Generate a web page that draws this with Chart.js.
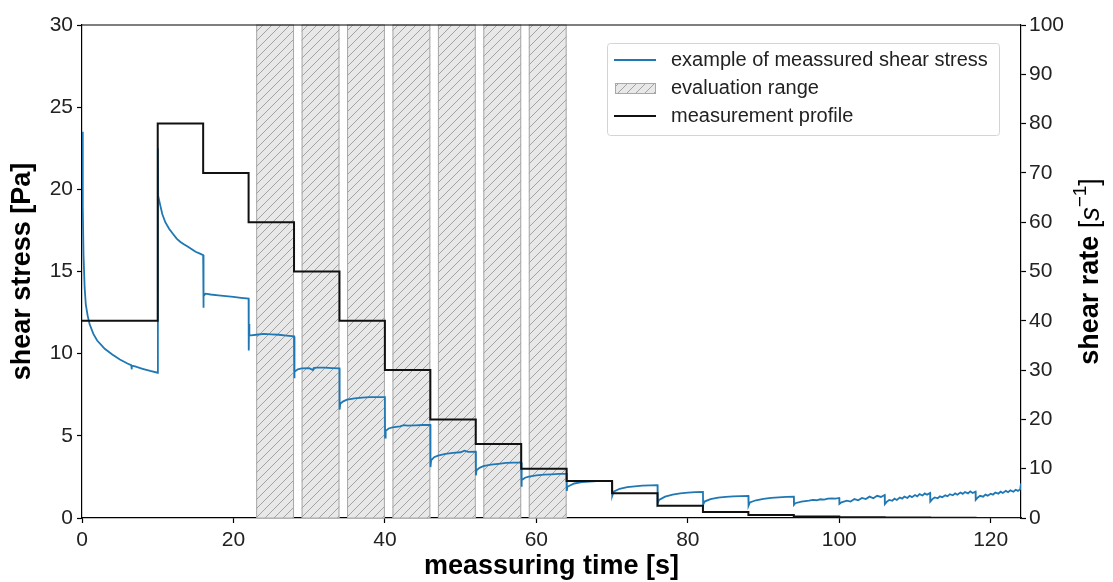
<!DOCTYPE html>
<html>
<head>
    <title>Shear stress and measurement profile</title>
    <script src="https://cdn.jsdelivr.net/npm/chart.js"></script>
    <style>
        body { margin: 0; background: #fff; }
        #wrap { width: 1113px; height: 582px; }
    </style>
</head>
<body>

<div id="wrap"><canvas id="shearChart" width="1113" height="582"></canvas></div>

<script>
// measured shear stress [Pa] vs time [s]
const stressTime = [
    0, 0.1, 0.2, 0.35, 0.5, 0.75, 1, 1.5, 2, 2.5, 3, 4, 5, 6, 6.5, 6.55, 6.6, 7, 8, 9, 10,
    10.02, 10.06, 10.3, 10.6, 11, 11.5, 12, 12.5, 13, 13.5, 14, 14.5, 15, 15.5, 16,
    16.02, 16.08, 16.3, 17, 18, 19, 20, 21, 22,
    22.02, 22.06, 22.1, 23, 24, 25, 26, 27, 28,
    28.02, 28.1, 28.5, 29, 30, 30.5, 30.6, 31, 32, 33, 34,
    34.02, 34.1, 34.5, 35, 36, 37, 38, 39, 40,
    40.02, 40.1, 40.5, 41, 42, 42.5, 43, 44, 45, 46,
    46.02, 46.1, 46.5, 47, 48, 49, 50, 50.5, 51, 52,
    52.02, 52.1, 52.5, 53, 54, 55, 56, 57, 58,
    58.02, 58.1, 58.5, 59, 60, 61, 62, 63, 64,
    64.02, 64.1, 65, 66, 67, 68, 69, 70,
    70.02, 70.2, 71, 72, 73, 74, 75, 76,
    76.02, 76.2, 77, 78, 79, 80, 81, 82,
    82.02, 82.2, 83, 84, 85, 86, 87, 88,
    88.02, 88.2, 89, 90, 91, 92, 93, 94,
    94.02, 94.2, 95, 96, 96.5, 97, 97.5, 98, 98.5, 99, 99.5, 100,
    100.02, 100.3, 101, 101.5, 102, 102.5, 103, 103.5, 104, 104.5, 105, 105.5, 106,
    106.02, 106.3, 106.6, 107, 107.3, 107.6, 108, 108.3, 108.6, 109, 109.3, 109.6, 110, 110.3, 110.6, 111, 111.3, 111.6, 112,
    112.02, 112.3, 112.6, 113, 113.3, 113.6, 114, 114.3, 114.6, 115, 115.3, 115.6, 116, 116.3, 116.6, 117, 117.3, 117.6, 118,
    118.02, 118.3, 118.6, 119, 119.3, 119.6, 120, 120.3, 120.6, 121, 121.3, 121.6, 122, 122.3, 122.6, 123, 123.3, 123.6, 123.9, 124
];
const stressValue = [
    23.5, 19, 16, 14, 13, 12.3, 11.8, 11.2, 10.8, 10.55, 10.3, 9.95, 9.65, 9.4, 9.3, 9.05, 9.28, 9.22, 9.08, 8.95, 8.84,
    22.5, 19.6, 19.1, 18.5, 18.0, 17.6, 17.3, 17.0, 16.8, 16.65, 16.5, 16.35, 16.2, 16.1, 16.0,
    12.8, 13.5, 13.65, 13.6, 13.55, 13.5, 13.45, 13.4, 13.35,
    10.2, 11.8, 11.1, 11.15, 11.2, 11.18, 11.15, 11.1, 11.05,
    8.5, 8.9, 9.05, 9.1, 9.12, 9.0, 9.12, 9.15, 9.15, 9.12, 9.1,
    6.6, 6.95, 7.1, 7.2, 7.28, 7.32, 7.35, 7.36, 7.36,
    4.9, 5.3, 5.45, 5.52, 5.58, 5.65, 5.62, 5.64, 5.66, 5.66,
    3.1, 3.5, 3.7, 3.8, 3.9, 3.96, 4.0, 4.1, 4.02, 4.03,
    2.6, 2.9, 3.05, 3.15, 3.25, 3.3, 3.35, 3.37, 3.37,
    1.9, 2.3, 2.45, 2.52, 2.6, 2.64, 2.66, 2.68, 2.68,
    1.65, 1.9, 2.1, 2.18, 2.22, 2.24, 2.25, 2.25,
    1.35, 1.6, 1.78, 1.88, 1.93, 1.97, 1.99, 2.0,
    0.9, 1.1, 1.3, 1.42, 1.5, 1.54, 1.57, 1.58,
    0.8, 1.0, 1.15, 1.24, 1.29, 1.32, 1.33, 1.34,
    0.75, 0.95, 1.08, 1.16, 1.22, 1.26, 1.28, 1.3,
    0.8, 0.9, 1.0, 1.06, 1.1, 1.08, 1.14, 1.12, 1.18, 1.2, 1.18, 1.22,
    0.85, 0.95, 1.05, 1.0, 1.15, 1.08, 1.22, 1.15, 1.3, 1.2, 1.35, 1.28, 1.4,
    0.85, 1.0, 1.1, 1.05, 1.18, 1.1, 1.25, 1.18, 1.3, 1.22, 1.35, 1.27, 1.4, 1.32, 1.45, 1.37, 1.5, 1.42, 1.52,
    1.0, 1.15, 1.25, 1.2, 1.32, 1.26, 1.38, 1.32, 1.45, 1.38, 1.5, 1.42, 1.55, 1.47, 1.58, 1.5, 1.62, 1.52, 1.6,
    1.1, 1.25, 1.35, 1.3, 1.42, 1.36, 1.48, 1.42, 1.55, 1.48, 1.6, 1.52, 1.65, 1.57, 1.68, 1.6, 1.72, 1.65, 1.75, 2.1
];

// measurement profile: shear rate [1/s], each value held until the next time
const profileTime = [0, 10, 16, 22, 28, 34, 40, 46, 52, 58, 64, 70, 76, 82, 88, 94, 100, 106, 112, 118, 124];
const profileRate = [40, 80, 70, 60, 50, 40, 30, 20, 15, 10, 7.5, 5, 2.5, 1.2, 0.6, 0.3, 0.15, 0.08, 0.04, 0.02, 0.02];

// evaluation ranges [s]
const evalStart = [23, 29, 35, 41, 47, 53, 59];
const evalEnd   = [28, 34, 40, 46, 52, 58, 64];

const FONT = "'Liberation Sans', Arial, sans-serif";

function makeHatch(ctx) {
    const c = document.createElement('canvas');
    c.width = 9; c.height = 9;
    const p = c.getContext('2d');
    p.fillStyle = '#e8e8e8';
    p.fillRect(0, 0, 9, 9);
    p.strokeStyle = '#a2a2a2';
    p.lineWidth = 1;
    p.beginPath();
    p.moveTo(-1, 10); p.lineTo(10, -1);
    p.moveTo(-1, 1); p.lineTo(1, -1);
    p.moveTo(8, 10); p.lineTo(10, 8);
    p.stroke();
    return ctx.createPattern(c, 'repeat');
}

const hatchPlugin = {
    id: 'hatchRanges',
    beforeDatasetsDraw(chart) {
        const {ctx, scales: {x, y}} = chart;
        const pat = makeHatch(ctx);
        ctx.save();
        for (let i = 0; i < evalStart.length; i++) {
            const x0 = x.getPixelForValue(evalStart[i]);
            const x1 = x.getPixelForValue(evalEnd[i]);
            const y0 = y.getPixelForValue(30);
            const y1 = y.getPixelForValue(0);
            ctx.fillStyle = pat;
            ctx.fillRect(x0, y0, x1 - x0, y1 - y0);
            ctx.strokeStyle = '#a8a8a8';
            ctx.lineWidth = 1;
            ctx.strokeRect(x0 + 0.5, y0, x1 - x0 - 1, y1 - y0);
        }
        ctx.restore();
    },
    afterDatasetsDraw(chart) {
        const {ctx, chartArea} = chart;
        // top frame line
        ctx.save();
        ctx.strokeStyle = '#000';
        ctx.lineWidth = 1.2;
        ctx.beginPath();
        ctx.moveTo(chartArea.left, chartArea.top);
        ctx.lineTo(chartArea.right, chartArea.top);
        ctx.stroke();

        // legend inside the plot
        const bx = 607, by = 43, bw = 392, bh = 92;
        ctx.fillStyle = 'rgba(255,255,255,0.85)';
        ctx.strokeStyle = '#d4d4d4';
        ctx.lineWidth = 1;
        ctx.beginPath();
        ctx.roundRect(bx + 0.5, by + 0.5, bw, bh, 3);
        ctx.fill();
        ctx.stroke();

        ctx.font = '20px ' + FONT;
        ctx.textBaseline = 'middle';
        ctx.fillStyle = '#222';
        const rows = [60, 88, 116];
        const tx = 671;
        ctx.lineWidth = 2;
        ctx.strokeStyle = '#1f77b4';
        ctx.beginPath(); ctx.moveTo(614, rows[0]); ctx.lineTo(656, rows[0]); ctx.stroke();
        ctx.fillText('example of meassured shear stress', tx, rows[0]);

        ctx.fillStyle = makeHatch(ctx);
        ctx.fillRect(615, rows[1] - 5, 41, 11);
        ctx.strokeStyle = '#a8a8a8';
        ctx.lineWidth = 1;
        ctx.strokeRect(615.5, rows[1] - 4.5, 40, 10);
        ctx.fillStyle = '#222';
        ctx.fillText('evaluation range', tx, rows[1]);

        ctx.lineWidth = 2;
        ctx.strokeStyle = '#111';
        ctx.beginPath(); ctx.moveTo(614, rows[2]); ctx.lineTo(656, rows[2]); ctx.stroke();
        ctx.fillText('measurement profile', tx, rows[2]);
        ctx.restore();
    },
    afterDraw(chart) {
        // right axis title, read bottom-to-top, with s^-1
        const {ctx, chartArea} = chart;
        const cy = (chartArea.top + chartArea.bottom) / 2;
        const cx = 1091;
        const parts = [
            {t: 'shear rate ', f: 'bold 27px ' + FONT, dy: 0},
            {t: '[', f: '27px ' + FONT, dy: 0},
            {t: 's', f: 'italic 27px ' + FONT, dy: 0},
            {t: '−1', f: '19px ' + FONT, dy: -10},
            {t: ']', f: '27px ' + FONT, dy: 0}
        ];
        ctx.save();
        let total = 0;
        parts.forEach(p => { ctx.font = p.f; p.w = ctx.measureText(p.t).width; total += p.w; });
        ctx.translate(cx, cy);
        ctx.rotate(-Math.PI / 2);
        ctx.fillStyle = '#000';
        ctx.textBaseline = 'middle';
        let px = -total / 2;
        parts.forEach(p => {
            ctx.font = p.f;
            ctx.fillText(p.t, px, p.dy);
            px += p.w;
        });
        ctx.restore();
    }
};

const stressPoints = stressTime.map((t, i) => ({x: t, y: stressValue[i]}));
const profilePoints = profileTime.map((t, i) => ({x: t, y: profileRate[i]}));

const axisGrid = {drawOnChartArea: false, color: '#000', tickColor: '#000', tickLength: 5, tickWidth: 1.2};
const axisBorder = {display: true, color: '#000', width: 1.2};
const tickFont = {family: FONT, size: 21};
const titleFont = {family: FONT, size: 27, weight: 'bold'};

new Chart(document.getElementById('shearChart').getContext('2d'), {
    type: 'line',
    data: {
        datasets: [{
            label: 'measurement profile',
            data: profilePoints,
            yAxisID: 'y1',
            stepped: 'before',
            borderColor: '#111',
            borderWidth: 2,
            pointRadius: 0,
            order: 0
        }, {
            label: 'example of meassured shear stress',
            data: stressPoints,
            yAxisID: 'y',
            borderColor: '#1f77b4',
            borderWidth: 1.8,
            pointRadius: 0,
            tension: 0,
            order: 1
        }]
    },
    options: {
        responsive: false,
        animation: false,
        layout: {padding: {top: 25, left: 0, right: 0, bottom: 0}},
        plugins: {legend: {display: false}, tooltip: {enabled: false}},
        scales: {
            x: {
                type: 'linear',
                min: 0,
                max: 124,
                grid: axisGrid,
                border: axisBorder,
                ticks: {stepSize: 20, includeBounds: false, color: '#222', font: tickFont, padding: 5, maxRotation: 0},
                title: {display: true, text: 'meassuring time [s]', color: '#000', font: titleFont, padding: {top: 0, bottom: -1}},
                afterFit(scale) { scale.height = 64; }
            },
            y: {
                position: 'left',
                min: 0,
                max: 30,
                grid: axisGrid,
                border: axisBorder,
                ticks: {stepSize: 5, color: '#222', font: tickFont, padding: 4},
                title: {display: true, text: 'shear stress [Pa]', color: '#000', font: titleFont, padding: {top: 6, bottom: 0}},
                afterFit(scale) { scale.width = 82; }
            },
            y1: {
                position: 'right',
                min: 0,
                max: 100,
                grid: axisGrid,
                border: axisBorder,
                ticks: {stepSize: 10, color: '#222', font: tickFont, padding: 3},
                title: {display: false},
                afterFit(scale) { scale.width = 92; }
            }
        }
    },
    plugins: [hatchPlugin]
});
</script>

</body>
</html>
